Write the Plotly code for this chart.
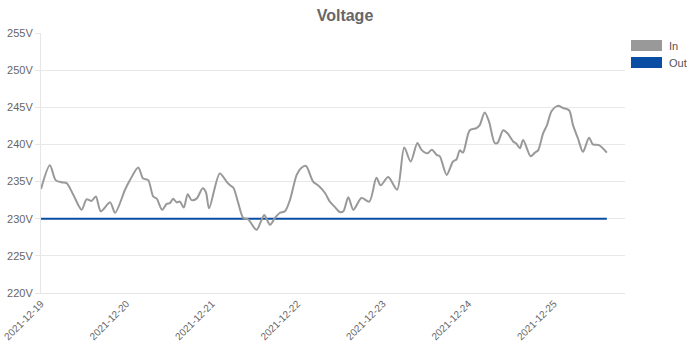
import pandas as pd
import plotly.graph_objects as go

# Hours elapsed since 2021-12-19 00:00 and measured input voltage
hours = [0, 2.5, 4.1, 5.8, 7.2, 9.1, 11.4, 12.8, 14.2, 15.4, 16.8, 19.4, 20.8, 23.6,
         25.0, 27.3, 28.7, 30.1, 31.5, 32.5, 34.0, 35.3, 36.2, 37.1, 38.1, 39.0, 40.1,
         41.2, 42.3, 43.7, 45.4, 46.3, 47.2, 50.2, 52.1, 53.1, 54.0, 55.4, 56.8, 58.2,
         60.5, 61.9, 62.7, 64.3, 65.7, 67.1, 68.5, 69.9, 71.8, 73.0, 74.4, 76.4, 77.8,
         79.7, 81.1, 82.5, 83.9, 84.9, 86.3, 87.7, 90.0, 92.2, 94.2, 95.4, 97.5, 100.0,
         102.0, 103.8, 105.7, 106.8, 108.5, 109.8, 111.1, 112.0, 113.9, 115.7, 116.7,
         117.6, 118.5, 120.4, 122.3, 123.2, 124.6, 125.8, 127.4, 128.2, 129.8, 131.0,
         132.6, 133.5, 134.5, 135.4, 137.5, 138.7, 139.6, 141.0, 142.1, 143.4, 145.2,
         146.6, 148.3, 149.4, 150.8, 152.2, 153.9, 155.0, 156.7, 158.9]
volts_in = [234.0, 237.2, 235.2, 234.9, 234.8, 233.2, 231.2, 232.6, 232.4, 233.0, 231.0,
            232.2, 230.8, 233.9, 235.2, 236.9, 235.4, 235.2, 233.0, 232.7, 231.2, 232.0,
            232.1, 232.7, 232.2, 232.3, 231.5, 233.3, 232.5, 232.7, 234.1, 233.6, 231.4,
            236.1, 235.0, 234.5, 234.2, 232.1, 230.1, 229.9, 228.5, 229.8, 230.5, 229.2,
            230.1, 230.8, 231.0, 232.5, 235.9, 236.8, 237.1, 235.0, 234.5, 233.5, 232.3,
            231.6, 230.9, 231.0, 232.9, 231.2, 232.8, 232.3, 235.5, 234.5, 235.6, 233.9,
            239.6, 237.7, 240.2, 239.3, 238.8, 239.3, 238.6, 238.4, 235.9, 237.7, 238.0,
            239.2, 238.9, 241.9, 242.2, 242.6, 244.3, 243.1, 240.2, 240.2, 241.9, 241.5,
            240.4, 240.1, 239.5, 240.6, 238.4, 238.9, 239.2, 241.5, 242.6, 244.5, 245.2,
            244.9, 244.6, 242.6, 240.8, 239.0, 240.9, 240.0, 239.9, 238.9]
# Regulated output voltage (constant)
volt_out = 230

y_ticks = [220, 225, 230, 235, 240, 245, 250, 255]
y_labels = [f"{v}V" for v in y_ticks]
series_names = ["In", "Out"]
series_colors = ["#999999", "#0a4ea3"]

start = pd.Timestamp("2021-12-19 00:00")
times = [start + pd.Timedelta(hours=h) for h in hours]
out_vals = [volt_out] * len(times)

FONT = "Liberation Sans, Arial, sans-serif"

fig = go.Figure()
fig.add_trace(go.Scatter(x=times, y=out_vals, mode="lines", name=series_names[1],
                         line=dict(color=series_colors[1], width=2)))
fig.add_trace(go.Scatter(x=times, y=volts_in, mode="lines", name=series_names[0],
                         line=dict(color=series_colors[0], width=2, shape="spline",
                                   smoothing=0.8)))

# Legend drawn as filled boxes with labels at the top right
for i, (name, col) in enumerate(zip(series_names, series_colors)):
    y0 = 40 + i * 17
    fig.add_shape(type="rect", xref="paper", yref="paper",
                  x0=(631 - 41) / 584, x1=(662 - 41) / 584,
                  y0=(293 - (y0 + 11)) / 260, y1=(293 - y0) / 260,
                  fillcolor=col, line=dict(width=0))
    fig.add_annotation(text=name, xref="paper", yref="paper",
                       x=(667 - 41) / 584, y=(293 - (y0 + 5.5)) / 260,
                       xanchor="left", yanchor="middle", showarrow=False,
                       font=dict(family=FONT, size=11, color="#555555"))

fig.update_layout(
    width=690, height=344,
    margin=dict(l=41, r=65, t=33, b=51),
    paper_bgcolor="white", plot_bgcolor="white",
    showlegend=False,
    title=dict(text="<b>Voltage</b>", x=0.5, xanchor="center", y=0.955, yanchor="middle",
               font=dict(family=FONT, size=16, color="#666666")),
    font=dict(family=FONT, size=11, color="#666666"),
)
fig.update_xaxes(
    type="date", automargin=False, ticklabeloverflow="allow",
    range=[start, start + pd.Timedelta(hours=164)],
    tickformat="%Y-%m-%d", dtick=86400000, tick0=start,
    tickangle=-45, showgrid=False, zeroline=False,
    showline=True, linecolor="#e6e6e6", linewidth=1,
    tickfont=dict(size=10, color="#666666"),
)
fig.update_yaxes(
    automargin=False,
    range=[220, 255], tickvals=y_ticks, ticktext=y_labels,
    showgrid=True, gridcolor="#e8e8e8", gridwidth=1, zeroline=False,
    showline=True, linecolor="#e6e6e6", linewidth=1,
    ticks="outside", ticklen=5, tickcolor="#e6e6e6",
    tickfont=dict(size=11, color="#666666"),
)

fig.write_html("out.html")
